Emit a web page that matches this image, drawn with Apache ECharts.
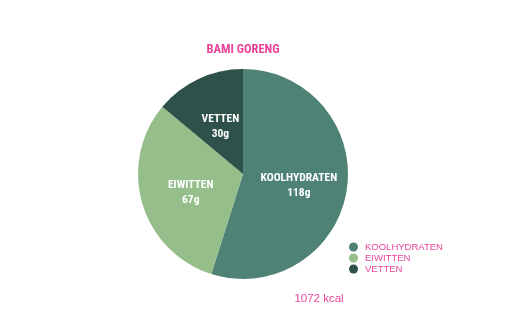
<!DOCTYPE html>
<html><head><meta charset="utf-8">
<script src="https://cdn.jsdelivr.net/npm/echarts@6/dist/echarts.min.js"></script>
<style>html,body{margin:0;padding:0;background:#fff}#c{width:510px;height:328px}</style>
</head><body><div id="c"></div>
<script>
const titleText = 'BAMI GORENG';
const categories = ['KOOLHYDRATEN', 'EIWITTEN', 'VETTEN'];
const values = [118, 67, 30];
const unit = 'g';
const kcalText = '1072 kcal';
const colors = ['#4e8275', '#95be8a', '#2e5149'];
const pink = '#e8449a';
const condFont = '"Roboto Condensed", "Roboto", sans-serif';
const plainFont = '"Liberation Sans", Arial, sans-serif';

const chart = echarts.init(document.getElementById('c'));
chart.setOption({
  animation: false,
  color: colors,
  title: [
    { text: titleText, left: 243, top: 43, textAlign: 'center', padding: 0,
      textStyle: { color: pink, fontSize: 12.5, fontWeight: 'bold', fontFamily: condFont } },
    { text: kcalText, left: 319, top: 293, textAlign: 'center', padding: 0,
      textStyle: { color: pink, fontSize: 11.5, fontWeight: 'normal', fontFamily: plainFont } }
  ],
  legend: {
    orient: 'vertical', left: 345, top: 238, padding: 4,
    icon: 'circle', itemWidth: 9, itemHeight: 9, itemGap: 1,
    data: categories,
    textStyle: { color: pink, fontSize: 9.5, fontFamily: plainFont, padding: [0,0,0,2] }
  },
  series: [{
    type: 'pie',
    center: [243, 174],
    radius: [0, 105],
    startAngle: 90,
    clockwise: true,
    data: categories.map((c, i) => ({ name: c, value: values[i] })),
    label: {
      show: true, position: 'inner', offset: [1, 3],
      formatter: p => p.name + '\n' + p.value + unit,
      color: '#fff', fontSize: 11.5, fontWeight: 'bold', fontFamily: condFont, lineHeight: 15
    },
    labelLine: { show: false },
    itemStyle: { borderWidth: 0 },
    emphasis: { disabled: true }
  }]
});
</script></body></html>
